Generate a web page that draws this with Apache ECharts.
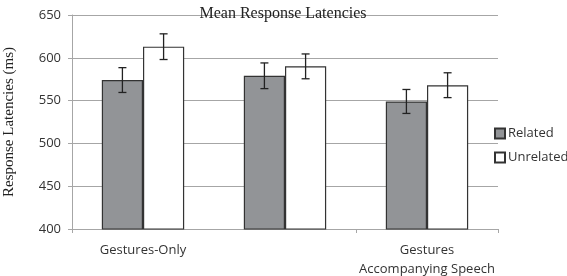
<!DOCTYPE html>
<html>
<head>
<meta charset="utf-8">
<script src="https://cdn.jsdelivr.net/npm/echarts@6/dist/echarts.min.js"></script>
<style>
  html, body { margin: 0; padding: 0; background: #fff; }
  #chart { width: 567px; height: 276px; }
</style>
</head>
<body>
<div id="chart"></div>
<script>
const categories = ['Gestures-Only', 'Speech-Only', 'Gestures\nAccompanying Speech']
const relatedMeans = [574, 579, 549]
const relatedErr = [14.5, 15, 14]
const unrelatedMeans = [613, 590, 568]
const unrelatedErr = [15, 14.5, 14.5]
const yTicks = [400, 450, 500, 550, 600, 650]

const chart = echarts.init(document.getElementById('chart'))

const catGap = 0.42
const halfBar = (1 - catGap) / 4

// error bar whiskers drawn at each bar's center
const errorSeries = (means, errs, side) => ({
  type: 'custom',
  z: 10,
  silent: true,
  data: means.map((m, i) => [i, m - errs[i], m + errs[i]]),
  renderItem: (params, api) => {
    const band = api.size([1, 0])[0]
    const lo = api.coord([api.value(0), api.value(1)])
    const hi = api.coord([api.value(0), api.value(2)])
    const x = lo[0] + side * halfBar * band
    const cap = 4
    const style = { stroke: '#222', lineWidth: 1.3 }
    return {
      type: 'group',
      children: [
        { type: 'line', shape: { x1: x, y1: lo[1], x2: x, y2: hi[1] }, style },
        { type: 'line', shape: { x1: x - cap, y1: lo[1], x2: x + cap, y2: lo[1] }, style },
        { type: 'line', shape: { x1: x - cap, y1: hi[1], x2: x + cap, y2: hi[1] }, style }
      ]
    }
  }
})

const option = {
  backgroundColor: '#fff',
  animation: false,
  title: {
    text: 'Mean Response Latencies',
    left: 278,
    textAlign: 'center',
    top: 1,
    textStyle: { fontFamily: 'Liberation Serif', fontSize: 16, fontWeight: 'normal', color: '#222' }
  },
  legend: {
    orient: 'vertical',
    left: 489,
    top: 122,
    itemWidth: 10,
    itemHeight: 10,
    itemGap: 11,
    icon: 'rect',
    data: ['Related', 'Unrelated'],
    textStyle: { fontFamily: 'Open Sans', fontSize: 13, color: '#333', padding: [0, 0, 0, -2] }
  },
  grid: { left: 72, right: 69, top: 15, bottom: 47, outerBoundsMode: 'none' },
  xAxis: {
    type: 'category',
    data: categories,
    axisLine: { lineStyle: { color: '#a6a6a6' } },
    axisTick: { show: true, length: 4, lineStyle: { color: '#a6a6a6' } },
    axisLabel: { fontFamily: 'Open Sans', fontSize: 13, color: '#333', margin: 12, lineHeight: 19 }
  },
  yAxis: {
    type: 'value',
    min: 400,
    max: 650,
    interval: 50,
    name: 'Response Latencies (ms)',
    nameLocation: 'middle',
    nameGap: 55,
    nameTextStyle: { fontFamily: 'Liberation Serif', fontSize: 15, color: '#222' },
    axisLine: { show: true, lineStyle: { color: '#a6a6a6' } },
    axisTick: { show: true, length: 4, lineStyle: { color: '#a6a6a6' } },
    axisLabel: {
      fontFamily: 'Open Sans', fontSize: 13, color: '#333', margin: 11,
      formatter: v => (yTicks.includes(v) ? String(v) : '')
    },
    splitLine: { lineStyle: { color: '#a6a6a6' } }
  },
  series: [
    {
      name: 'Related',
      type: 'bar',
      barGap: 0,
      barCategoryGap: '42%',
      itemStyle: { color: '#929497', borderColor: '#333', borderWidth: 1.2 },
      data: relatedMeans
    },
    {
      name: 'Unrelated',
      type: 'bar',
      barGap: 0,
      barCategoryGap: '42%',
      itemStyle: { color: '#fff', borderColor: '#333', borderWidth: 1.2 },
      data: unrelatedMeans
    },
    errorSeries(relatedMeans, relatedErr, -1),
    errorSeries(unrelatedMeans, unrelatedErr, 1)
  ]
}

chart.setOption(option)
</script>
</body>
</html>
